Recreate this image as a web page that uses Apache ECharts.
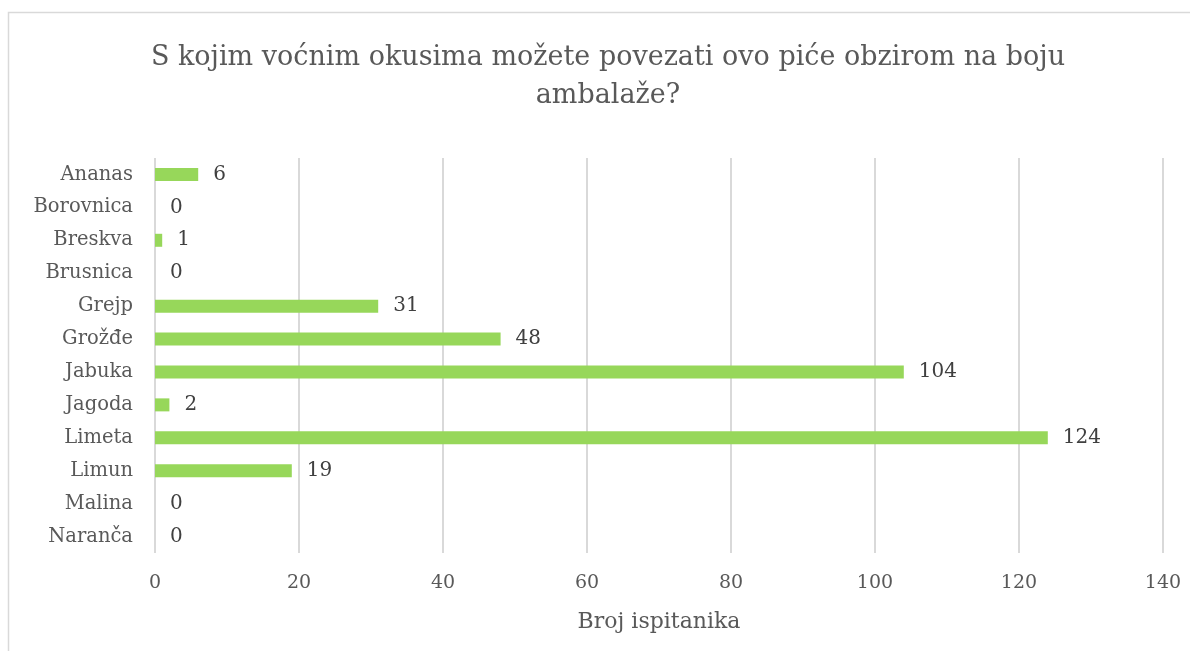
<!DOCTYPE html>
<html>
<head>
<meta charset="utf-8">
<script src="https://cdn.jsdelivr.net/npm/echarts@6/dist/echarts.min.js"></script>
<style>
  html, body { margin: 0; padding: 0; background: #fff; }
  #chart { width: 1190px; height: 651px; }
</style>
</head>
<body>
<div id="chart"></div>
<script>
// Fruit flavours associated with the drink, by number of respondents
const categories = ['Ananas', 'Borovnica', 'Breskva', 'Brusnica', 'Grejp', 'Grožđe', 'Jabuka', 'Jagoda', 'Limeta', 'Limun', 'Malina', 'Naranča'];
const respondents = [6, 0, 1, 0, 31, 48, 104, 2, 124, 19, 0, 0];
const xTicks = [0, 20, 40, 60, 80, 100, 120, 140];

const titleText = 'S kojim voćnim okusima možete povezati ovo piće obzirom na boju\nambalaže?';
const axisName = 'Broj ispitanika';

const serif = '"DejaVu Serif", "Liberation Serif", serif';

const chart = echarts.init(document.getElementById('chart'), null, { renderer: 'canvas' });
chart.setOption({
  backgroundColor: '#ffffff',
  animation: false,
  graphic: [{
    type: 'rect',
    shape: { x: 8.5, y: 12.5, width: 1200, height: 700 },
    style: { fill: 'none', stroke: '#d9d9d9', lineWidth: 1.5 },
    silent: true
  }],
  title: {
    text: titleText,
    left: 603,
    top: 34,
    textAlign: 'center',
    textStyle: {
      fontFamily: serif,
      fontWeight: 'normal',
      fontSize: 27,
      lineHeight: 38,
      color: '#595959'
    }
  },
  grid: { left: 155, right: 27, top: 158, bottom: 98, containLabel: false },
  xAxis: {
    type: 'value',
    min: 0,
    max: 140,
    interval: 20,
    name: axisName,
    nameLocation: 'middle',
    nameGap: 58,
    nameTextStyle: { fontFamily: serif, fontSize: 22, color: '#595959' },
    axisLine: { show: false },
    axisTick: { show: false },
    axisLabel: {
      fontFamily: serif, fontSize: 19, color: '#595959', margin: 21,
      formatter: v => (xTicks.includes(v) ? String(v) : '')
    },
    splitLine: { show: true, lineStyle: { color: '#d9d9d9', width: 2 } }
  },
  yAxis: {
    type: 'category',
    inverse: true,
    data: categories,
    axisLine: { show: false },
    axisTick: { show: false },
    axisLabel: { fontFamily: serif, fontSize: 19.5, color: '#595959', margin: 22 }
  },
  series: [{
    type: 'bar',
    data: respondents,
    barWidth: 13,
    itemStyle: { color: '#97d75a' },
    label: {
      show: true,
      position: 'right',
      distance: 15,
      fontFamily: serif,
      fontSize: 20,
      color: '#404040'
    }
  }]
});
</script>
</body>
</html>
